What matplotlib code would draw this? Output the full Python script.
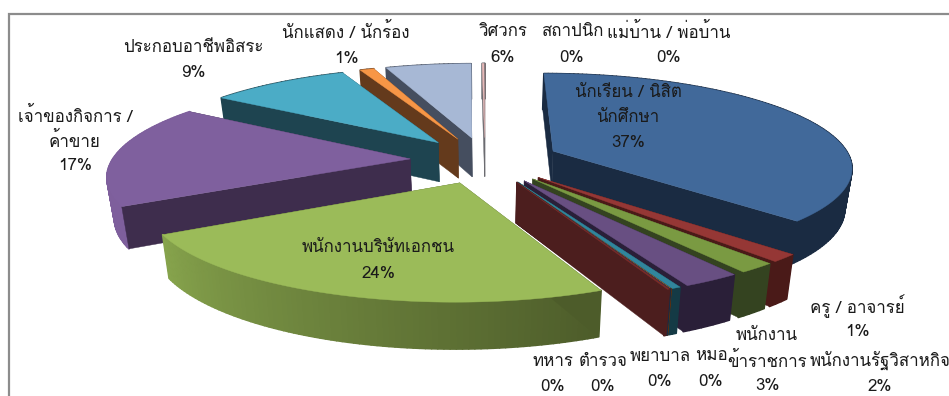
import numpy as np
import matplotlib
matplotlib.use('Agg')
import matplotlib.pyplot as plt
from matplotlib.collections import PolyCollection
from matplotlib.patches import Polygon
from matplotlib.colors import to_rgb

plt.rcParams['font.family'] = ['Loma', 'Noto Sans Thai', 'DejaVu Sans']

# occupations, clockwise from twelve o'clock
occupations = ['นักเรียน / นิสิต\nนักศึกษา', 'ครู / อาจารย์', 'พนักงานรัฐวิสาหกิจ',
               'พนักงาน\nข้าราชการ', 'หมอ', 'พยาบาล', 'ตำรวจ', 'ทหาร',
               'พนักงานบริษัทเอกชน', 'เจ้าของกิจการ /\nค้าขาย', 'ประกอบอาชีพอิสระ',
               'นักแสดง / นักร้อง', 'วิศวกร', 'สถาปนิก', 'แม่บ้าน / พ่อบ้าน']
shares = [37.3, 1.3, 1.7, 2.6, 0.4, 0.03, 0.03, 0.1,
          23.6, 17.4, 9.0, 0.9, 5.5, 0.12, 0.04]

top_colors = ['#41699a', '#953735', '#7a9a42', '#684f82', '#31859c', '#e46c0a', '#1f3d5c', '#7a2c2a',
              '#9bbb59', '#7f609e', '#4bacc6', '#f79646', '#a7b8d5', '#e6b8b7', '#d99694']
wall_colors = ['#1a2b42', '#4a1a18', '#344320', '#2a1f38', '#143a45', '#5a2f10', '#1a2b42', '#4c1e1e',
               '#4d5c2a', '#3e2d4d', '#1e4450', '#643a1c', '#454e5f', '#6b6b70', '#6b6b70']
# rim shading at the start and end of each slice
rim_start = list(wall_colors)
rim_end = list(wall_colors)
rim_start[8], rim_end[8] = '#4d5c2a', '#86a34c'
rim_start[9], rim_end[9] = '#7e5f9c', '#7e5f9c'

# label centres: (x, y of first line, line spacing)
label_pos = [(628, 93, 25), (857, 306, 26), (880, 360, 27), (767, 336, 25), (711, 356, 26),
             (660, 357, 25), (603, 362, 25), (553, 362, 25), (378, 248, 26), (75, 116, 25),
             (193, 48, 25), (346, 32, 27), (503, 32, 26), (572, 32, 26), (669, 32, 26)]

CX, CY = 485, 160
RADIUS, EXPLODE, DEPTH = 298, 75, 40
TILT = 0.31
PERSP = 0.00053
SHRINK = 0.98


def project(x, y, low=False):
    s = 1 / (1 + PERSP * y)
    k = SHRINK if low else 1.0
    return CX + x * s * k, CY - TILT * y * s * k + (DEPTH * s if low else 0)


fig = plt.figure(figsize=(9.49, 3.96), dpi=100)
ax = fig.add_axes([0, 0, 1, 1])
ax.set_xlim(0, 949)
ax.set_ylim(396, 0)
ax.axis('off')

# frame of the chart area
ax.plot([9, 9, 949], [396, 14, 14], color='#8c8c8c', lw=1.6, solid_joinstyle='miter')

fractions = np.array(shares) / sum(shares)
edges = np.concatenate([[0], np.cumsum(fractions)]) * 2 * np.pi

slices = []
for i in range(len(shares)):
    a0, a1 = edges[i], edges[i + 1]
    mid = (a0 + a1) / 2
    hx, hy = EXPLODE * np.sin(mid), EXPLODE * np.cos(mid)
    slices.append((hy, i, a0, a1, hx))

# far slices first so the near ones paint over them
for hy, i, a0, a1, hx in sorted(slices, key=lambda item: -item[0]):
    ts = np.linspace(a0, a1, max(3, int((a1 - a0) * 60)))
    xs = hx + RADIUS * np.sin(ts)
    ys = hy + RADIUS * np.cos(ts)

    faces = []
    for xe, ye in ((xs[0], ys[0]), (xs[-1], ys[-1])):
        quad = [project(hx, hy), project(xe, ye), project(xe, ye, True), project(hx, hy, True)]
        faces.append(((hy + ye) / 2, quad))
    faces.sort(key=lambda f: -f[0])

    # the cut face further back goes under the rim and the other face
    ax.add_patch(Polygon(faces[0][1], fc=wall_colors[i], ec=wall_colors[i], lw=0.3))

    start, end = np.array(to_rgb(rim_start[i])), np.array(to_rgb(rim_end[i]))
    quads, cols = [], []
    for j in range(len(ts) - 1):
        quads.append([project(xs[j], ys[j]), project(xs[j + 1], ys[j + 1]),
                      project(xs[j + 1], ys[j + 1], True), project(xs[j], ys[j], True)])
        cols.append(start + (end - start) * j / max(1, len(ts) - 2))
    ax.add_collection(PolyCollection(quads, facecolors=cols, edgecolors=cols, linewidths=1.2))

    ax.add_patch(Polygon(faces[1][1], fc=wall_colors[i], ec=wall_colors[i], lw=0.3))

    top = [project(hx, hy)] + [project(x, y) for x, y in zip(xs, ys)]
    ax.add_patch(Polygon(top, fc=top_colors[i], ec=top_colors[i], lw=0.3))

for name, share, (x, y, step) in zip(occupations, shares, label_pos):
    lines = name.split('\n') + [f'{share:.0f}%']
    for n, line in enumerate(lines):
        ax.text(x, y + n * step, line, ha='center', va='center', fontsize=12.2, color='#1a1a1a')

fig.savefig('out.png', dpi=100)
